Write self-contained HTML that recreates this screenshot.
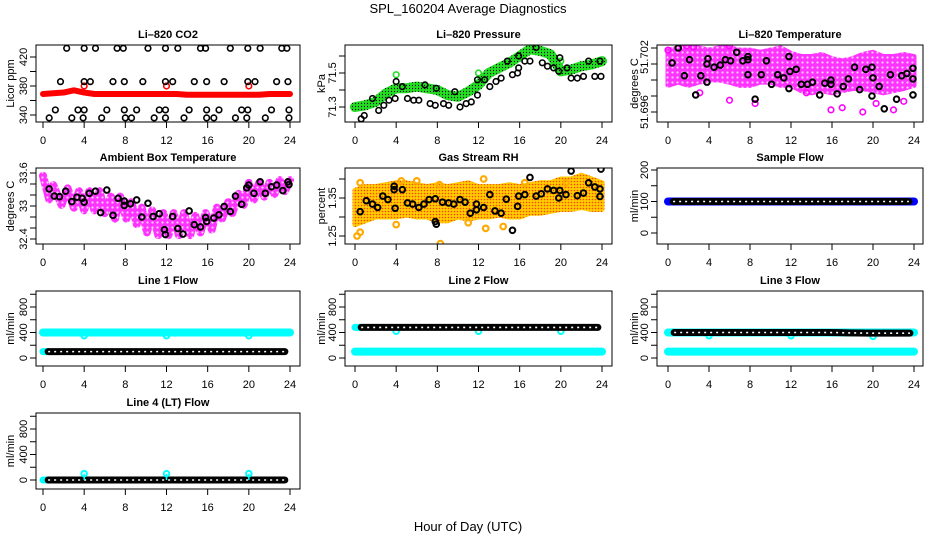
<!DOCTYPE html>
<html><head><meta charset="utf-8">
<style>
html,body{margin:0;padding:0;background:#fff;}
svg{display:block;font-family:"Liberation Sans",Arial,sans-serif;}
</style></head>
<body>
<svg id="chart" width="936" height="540" viewBox="0 0 936 540" xmlns="http://www.w3.org/2000/svg">
<defs>
<pattern id="pMag" width="5" height="5" patternUnits="userSpaceOnUse"><rect width="5" height="5" fill="#ff33ff"/><circle cx="2.5" cy="2.5" r="1.1" fill="#ffd0ff"/></pattern>
<pattern id="pGreen" width="3" height="3" patternUnits="userSpaceOnUse"><rect width="3" height="3" fill="#22dd22"/><circle cx="1.5" cy="1.5" r="0.6" fill="#000"/></pattern>
<pattern id="pRH" width="3" height="3" patternUnits="userSpaceOnUse"><rect width="3" height="3" fill="#ffcc00"/><circle cx="1.5" cy="1.5" r="0.8" fill="#ff4400"/></pattern>
</defs>
<text x="468" y="13" text-anchor="middle" font-size="13">SPL_160204  Average Diagnostics</text>
<text x="468" y="531" text-anchor="middle" font-size="13">Hour of Day (UTC)</text>
</svg>
<script>
// ---------- data ----------
const xTicks = [0,4,8,12,16,20,24];
const hours = [0,1,2,3,4,5,6,7,8,9,10,11,12,13,14,15,16,17,18,19,20,21,22,23,24];

// Li-820 CO2
const co2Red = [369,370,371,374,371,369,369,369,369,369,369,369,369,369,368,368,368,368,368,368,368,368,369,369,369];
const co2RedOutX = [4,12,20];
const co2RedOutY = [380,380,380];
const co2BlackX = [2.3,4.0,5.1,7.2,7.8,10.2,11.9,13.1,15.3,15.8,18.2,19.9,21.1,23.2,23.7,
  1.7,4.0,4.6,6.8,7.9,9.7,11.9,12.6,14.7,15.9,17.6,19.9,20.6,22.7,23.8,
  1.2,3.4,4.0,6.2,7.9,9.1,11.3,11.9,14.2,15.9,17.1,19.3,19.9,22.2,23.9,
  0.6,2.8,3.9,5.7,8.0,8.6,10.8,11.9,13.7,15.9,16.6,18.7,19.8,21.6,23.9];
const co2BlackY = [432,432,432,432,432,432,432,432,432,432,432,432,432,432,432,
  386,386,386,386,386,386,386,386,386,386,386,386,386,386,386,
  347,347,347,347,347,347,347,347,347,347,347,347,347,347,347,
  336,336,336,336,336,336,336,336,336,336,336,336,336,336,336];

// Li-820 Pressure
const presGreen = [71.30,71.31,71.33,71.38,71.41,71.41,71.42,71.41,71.40,71.37,71.36,71.39,71.43,71.50,71.53,71.56,71.60,71.64,71.63,71.61,71.51,71.52,71.54,71.55,71.57];
const presGreenOutX = [4,12,20];
const presGreenOutY = [71.49,71.50,71.57];
const presBlackX = [0.6,0.9,1.7,2.3,2.8,3.3,3.9,4.0,4.6,5.1,5.7,6.2,6.8,7.3,7.8,7.9,8.6,9.1,9.7,10.2,10.8,11.3,11.9,11.9,12.6,13.1,13.7,14.2,14.8,15.3,15.8,15.9,15.9,16.5,17.0,17.6,18.2,18.7,19.3,19.8,19.9,20.6,21.0,21.6,22.2,22.7,23.3,23.8,23.9];
const presBlackY = [71.23,71.25,71.35,71.28,71.31,71.34,71.35,71.45,71.42,71.35,71.34,71.34,71.43,71.32,71.31,71.41,71.32,71.31,71.39,71.30,71.32,71.33,71.37,71.46,71.46,71.42,71.45,71.47,71.57,71.49,71.50,71.53,71.60,71.57,71.57,71.65,71.56,71.54,71.53,71.51,71.59,71.53,71.47,71.47,71.48,71.57,71.48,71.57,71.48];

// Li-820 Temperature
const tempUpper = [51.7018,51.7020,51.7020,51.7020,51.7018,51.7020,51.7020,51.7018,51.7018,51.7016,51.7018,51.7020,51.7015,51.7012,51.7012,51.7014,51.7010,51.7008,51.7010,51.7014,51.7016,51.7012,51.7012,51.7014,51.7012];
const tempLower = [51.6985,51.6988,51.6985,51.6988,51.6990,51.6990,51.6988,51.6985,51.6985,51.6988,51.6988,51.6985,51.6985,51.6980,51.6978,51.6980,51.6978,51.6980,51.6982,51.6982,51.6980,51.6978,51.6980,51.6982,51.6985];
const tempMagOutX = [3.1,6.0,8.5,13.5,15.9,17.0,19.0,20.3,22.0,1.8,6.0,0.0,2.5,23.0];
const tempMagOutY = [51.6978,51.6971,51.6968,51.6978,51.6962,51.6964,51.6960,51.6968,51.6962,51.7022,51.7022,51.7018,51.7021,51.6970];
const tempBlackX = [0.4,1.0,1.6,2.1,2.7,3.2,3.8,3.8,3.9,4.5,5.1,5.6,6.1,6.7,7.3,7.8,7.8,7.8,8.5,9.1,9.6,10.1,10.7,11.3,11.8,11.8,11.9,12.5,13.0,13.6,14.1,14.8,15.3,15.9,15.9,16.5,17.1,17.6,18.2,18.7,19.3,19.9,19.9,20.0,20.6,21.1,21.7,22.3,22.8,23.3,23.9,23.9,23.9];
const tempBlackY = [51.7006,51.7020,51.6994,51.7009,51.6976,51.6994,51.6988,51.7005,51.7010,51.7002,51.7004,51.7009,51.7008,51.7016,51.7008,51.7009,51.6995,51.7012,51.6972,51.6995,51.7008,51.6986,51.6995,51.6992,51.6982,51.7012,51.6998,51.7000,51.6986,51.6986,51.6988,51.6976,51.6987,51.6990,51.6986,51.6977,51.6984,51.6991,51.7002,51.6981,51.7000,51.7002,51.6975,51.6992,51.6984,51.6963,51.6995,51.6972,51.6994,51.6996,51.6991,51.7001,51.6976];

// Ambient Box Temperature
const ambZigX = [0,0.6,1.0,1.8,2.4,3.0,3.5,4.0,4.5,5.0,5.5,6.0,6.6,7.0,7.5,8.1,8.6,9.1,9.6,10.1,10.6,11.2,11.7,12.2,12.7,13.2,13.7,14.3,14.8,15.3,15.8,16.4,16.9,17.4,18.0,18.4,19.0,19.5,20.0,20.5,21.0,21.5,22.0,22.5,23.0,23.5,24.0];
const ambZigY = [33.55,33.12,33.38,33.02,33.32,32.97,33.27,32.92,33.27,32.92,33.27,32.87,33.17,32.77,33.17,32.77,33.07,32.67,32.97,32.52,32.92,32.47,32.87,32.47,32.87,32.47,32.87,32.47,32.82,32.52,32.87,32.57,32.97,32.77,33.07,32.87,33.22,33.02,33.42,33.12,33.42,33.17,33.42,33.22,33.47,33.27,33.47];
const ambBlackX = [0.6,1.1,1.6,2.2,2.8,3.3,3.8,4.0,4.5,5.1,5.6,6.2,6.8,7.3,7.9,7.9,8.5,9.1,9.6,10.2,10.7,11.3,11.8,11.9,12.6,13.1,13.6,14.2,14.7,15.3,15.8,15.9,16.6,17.1,17.6,18.2,18.7,19.3,19.8,20.0,20.5,21.1,21.6,22.2,22.7,23.3,23.8,23.9];
const ambBlackY = [33.31,33.18,33.17,33.27,33.08,33.16,33.14,33.07,33.23,33.27,32.88,33.29,32.83,33.14,33.09,33.01,33.04,33.11,32.80,33.05,32.81,32.86,32.57,32.48,32.81,32.59,32.49,32.91,32.66,32.62,32.79,32.72,32.78,32.84,32.99,32.90,33.18,33.03,33.33,33.38,33.23,33.44,33.23,33.35,33.38,33.28,33.44,33.39];

// Gas Stream RH
const rhUpper = [1.37,1.38,1.38,1.385,1.39,1.39,1.385,1.38,1.385,1.38,1.385,1.39,1.38,1.38,1.38,1.385,1.38,1.385,1.39,1.39,1.40,1.40,1.41,1.40,1.39];
const rhLower = [1.28,1.29,1.30,1.30,1.30,1.305,1.30,1.30,1.29,1.29,1.30,1.295,1.30,1.30,1.305,1.30,1.30,1.31,1.31,1.315,1.32,1.32,1.325,1.32,1.32];
const rhOutX = [0.2,0.5,4.0,8.3,11.0,12.7,14.4,0.5,8.2,12.5,16.5,20.5,4.5,6.0];
const rhOutY = [1.25,1.26,1.28,1.23,1.285,1.27,1.275,1.39,1.385,1.40,1.39,1.39,1.395,1.395];
const rhBlackX = [0.5,1.1,1.7,2.2,2.7,3.2,3.8,3.8,3.9,4.6,5.1,5.6,6.2,6.7,7.2,7.8,7.8,7.9,8.5,9.1,9.6,10.2,10.7,11.2,11.8,11.8,12.5,13.1,13.6,14.2,14.7,15.3,15.8,15.9,16.5,17.0,17.6,18.1,18.7,19.3,19.8,19.9,20.5,21.0,21.6,22.2,22.7,23.3,23.8,23.8,23.9];
const rhBlackY = [1.314,1.343,1.334,1.325,1.355,1.346,1.381,1.372,1.323,1.372,1.337,1.334,1.325,1.334,1.346,1.348,1.288,1.281,1.339,1.337,1.334,1.346,1.339,1.310,1.334,1.319,1.325,1.359,1.316,1.310,1.347,1.265,1.328,1.355,1.359,1.404,1.355,1.361,1.374,1.370,1.350,1.370,1.359,1.421,1.356,1.363,1.390,1.379,1.374,1.354,1.426];

// Sample Flow
const sampleBlue = [100,100,100,100,100,100,100,100,100,100,100,100,100,100,100,100,100,100,100,100,100,100,100,100,100];
const sampleBlack = [100,100,100,100,100,100,100,100,100,100,100,100,100,100,100,100,100,100,100,100,100,100,100,100,100];

// Line flows
const dipX = [4,12,20];
const line1Cyan = [400,400,400,400,400,400,400,400,400,400,400,400,400,400,400,400,400,400,400,400,400,400,400,400,400];
const line1Black = [100,100,100,100,100,100,100,100,100,100,100,100,100,100,100,100,100,100,100,100,100,100,100,100,100];
const line1Dip = [350,350,350];
const line2Black = [480,480,480,480,480,480,480,480,480,480,480,480,480,480,480,480,480,480,480,480,480,480,480,480,480];
const line2Cyan = [100,100,100,100,100,100,100,100,100,100,100,100,100,100,100,100,100,100,100,100,100,100,100,100,100];
const line2Dip = [420,420,420];
const line3Black = [400,400,400,400,400,400,400,400,400,400,400,400,400,400,400,400,400,398,394,392,390,390,390,390,390];
const line3CyanHi = [400,400,400,400,400,400,400,400,400,400,400,400,400,400,400,400,400,400,400,400,400,400,400,400,400];
const line3Cyan = [100,100,100,100,100,100,100,100,100,100,100,100,100,100,100,100,100,100,100,100,100,100,100,100,100];
const line3Dip = [350,350,340];
const line4Black = [0,0,0,0,0,0,0,0,0,0,0,0,0,0,0,0,0,0,0,0,0,0,0,0,0];
const line4Spike = [100,100,100];

// ---------- helpers ----------
const NS = 'http://www.w3.org/2000/svg';
const svg = document.getElementById('chart');
function el(tag, parent){ const e = document.createElementNS(NS, tag); parent.appendChild(e); return e; }
function set(e, a){ for (const k in a) e.setAttribute(k, a[k]); return e; }

const cols = [{l:36,r:300,x0:43,x24:290,yl:10},{l:345,r:612,x0:355,x24:602,yl:321},{l:657,r:923,x0:668,x24:914,yl:634}];
const rows = [{t:45,b:122},{t:168,b:244},{t:291,b:366},{t:413,b:489}];

function panel(ci, ri, name, title, ylab, v1, p1, v2, p2, yTicks, yLabels, labelShift){
  const c = cols[ci], r = rows[ri];
  const g = el('g', svg);
  
  
  const X = h => c.x0 + (h/24)*(c.x24 - c.x0);
  const Y = v => p1 + (v - v1)*(p2 - p1)/(v2 - v1);
  const clipId = 'clip-' + name;
  const cp = el('clipPath', svg); cp.setAttribute('id', clipId);
  set(el('rect', cp), {x:c.l, y:r.t, width:c.r-c.l, height:r.b-r.t});
  const plot = el('g', g); plot.setAttribute('clip-path', 'url(#' + clipId + ')');
  
  
  const box = set(el('rect', g), {x:c.l, y:r.t, width:c.r-c.l, height:r.b-r.t, fill:'none', stroke:'#000', 'stroke-width':1});
  
  
  const tt = set(el('text', g), {x:(c.l+c.r)/2, y:r.t-7, 'text-anchor':'middle', 'font-size':11, 'font-weight':'bold'});
  tt.textContent = title;
  
  
  const yt = set(el('text', g), {x:0, y:0, 'text-anchor':'middle', 'font-size':11, transform:'translate(' + (c.yl+4) + ',' + ((r.t+r.b)/2) + ') rotate(-90)'});
  yt.textContent = ylab;
  
  
  const xa = el('g', g);
  
  
  set(el('line', xa), {x1:X(0), x2:X(24), y1:r.b, y2:r.b, stroke:'#000'});
  xTicks.forEach(h => {
    set(el('line', xa), {x1:X(h), x2:X(h), y1:r.b, y2:r.b+6, stroke:'#000'});
    const t = set(el('text', xa), {x:X(h), y:r.b+22, 'text-anchor':'middle', 'font-size':11});
    t.textContent = h;
    
    
  });
  const ya = el('g', g);
  
  
  set(el('line', ya), {x1:c.l, x2:c.l, y1:Y(yTicks[0]), y2:Y(yTicks[yTicks.length-1]), stroke:'#000'});
  yTicks.forEach(v => { set(el('line', ya), {x1:c.l-6, x2:c.l, y1:Y(v), y2:Y(v), stroke:'#000'}); });
  yLabels.forEach((v, i) => {
    const sh = labelShift ? labelShift[i] : 0;
    const t = set(el('text', ya), {x:0, y:0, 'text-anchor':'middle', 'font-size':11, transform:'translate(' + (c.l-9) + ',' + (Y(v)+sh) + ') rotate(-90)'});
    t.textContent = v;
    
    
  });
  return {X, Y, g: plot};
}

function points(P, xs, ys, color, name, sw){
  const gg = el('g', P.g);
  
  
  xs.forEach((h, i) => {
    set(el('circle', gg), {cx:P.X(h), cy:P.Y(ys[i]), r:2.8, fill:'none', stroke:color, 'stroke-width':sw||1.6});
  });
}
function band(P, xs, ys, stroke, width, name){
  const pl = el('polyline', P.g);
  set(pl, {points: xs.map((h,i) => P.X(h) + ',' + P.Y(ys[i])).join(' '), fill:'none', stroke:stroke, 'stroke-width':width, 'stroke-linejoin':'round', 'stroke-linecap':'round'});
  
  
  return pl;
}
function chain(P, xs, ys, color, name){
  const gg = el('g', P.g);
  
  
  const pts = xs.map((h,i) => P.X(h) + ',' + P.Y(ys[i])).join(' ');
  set(el('polyline', gg), {points:pts, fill:'none', stroke:color, 'stroke-width':7, 'stroke-linecap':'round'});
  set(el('polyline', gg), {points:pts, fill:'none', stroke:'#fff', 'stroke-width':1.6, 'stroke-dasharray':'2 4'});
}
function envelope(P, xs, up, lo, fill, name){
  const pg = el('polygon', P.g);
  const pts = xs.map((h,i) => P.X(h) + ',' + P.Y(up[i])).concat(xs.slice().reverse().map((h,j) => P.X(h) + ',' + P.Y(lo[xs.length-1-j])));
  set(pg, {points: pts.join(' '), fill: fill, stroke: fill, 'stroke-width':5, 'stroke-linejoin':'round'});
  
  
}
function sub(arr, from){ return arr.slice(from); }

// ---------- panels ----------
const pCO2 = panel(0,0,'co2-panel','Li\u2013820 CO2','Licor ppm',420,57,340,115,[340,360,380,400,420],[340,380,420]);
band(pCO2, hours, co2Red, '#ff0000', 6, 'co2-red-series');
points(pCO2, co2RedOutX, co2RedOutY, '#ff0000', 'co2-red-outliers');
points(pCO2, co2BlackX, co2BlackY, '#000', 'co2-black-series');

const pP = panel(1,0,'pressure-panel','Li\u2013820 Pressure','kPa',71.5,73,71.3,107,[71.3,71.4,71.5,71.6],[71.3,71.5]);
band(pP, hours, presGreen, 'url(#pGreen)', 10, 'pressure-green-series');
points(pP, presGreenOutX, presGreenOutY, '#22dd22', 'pressure-green-outliers');
points(pP, presBlackX, presBlackY, '#000', 'pressure-black-series');

const pT = panel(2,0,'temperature-panel','Li\u2013820 Temperature','degrees C',51.702,48,51.696,112,[51.696,51.6975,51.699,51.7005,51.702],[51.696,51.702],[0,9]);
envelope(pT, hours, tempUpper, tempLower, 'url(#pMag)', 'temperature-magenta-cloud');
points(pT, tempMagOutX, tempMagOutY, '#ff00ff', 'temperature-magenta-outliers');
points(pT, tempBlackX, tempBlackY, '#000', 'temperature-black-series', 2);

const pA = panel(0,1,'ambient-panel','Ambient Box Temperature','degrees C',33.6,173,32.4,239,[32.4,32.6,32.8,33.0,33.2,33.4,33.6],[32.4,33.0,33.6]);
band(pA, ambZigX, ambZigY, 'url(#pMag)', 8, 'ambient-magenta-series');
points(pA, ambBlackX, ambBlackY, '#000', 'ambient-black-series', 2);

const pR = panel(1,1,'rh-panel','Gas Stream RH','percent',1.35,198,1.25,236,[1.25,1.30,1.35,1.40],[1.25,1.35]);
envelope(pR, hours, rhUpper, rhLower, 'url(#pRH)', 'rh-orange-cloud');
points(pR, rhOutX, rhOutY, '#ffaa00', 'rh-orange-outliers', 2.2);
points(pR, rhBlackX, rhBlackY, '#000', 'rh-black-series', 2);

const pS = panel(2,1,'sample-flow-panel','Sample Flow','ml/min',200,170,0,233,[0,50,100,150,200],[0,100,200]);
band(pS, hours, sampleBlue, '#0000ff', 8, 'sample-blue-series');
chain(pS, sub(hours,1).map(h => h - 0.5), sub(sampleBlack,1), '#000', 'sample-black-series');

function flowPanel(ci, ri, name, title){
  const r = rows[ri];
  return panel(ci, ri, name, title, 'ml/min', 800, r.t+16, 0, r.t+67, [0,200,400,600,800,1000], [0,400,800]);
}
const pL1 = flowPanel(0,2,'line1-panel','Line 1 Flow');
band(pL1, hours, line1Cyan, '#00ffff', 8, 'line1-cyan-series');
points(pL1, dipX, line1Dip, '#00ffff', 'line1-cyan-dips', 2);
band(pL1, [0,0.4], [100,100], '#00ffff', 7, 'line1-cyan-start');
chain(pL1, sub(hours,1).map(h => h - 0.5), sub(line1Black,1), '#000', 'line1-black-series');

const pL2 = flowPanel(1,2,'line2-panel','Line 2 Flow');
band(pL2, hours, line2Cyan, '#00ffff', 8, 'line2-cyan-series');
band(pL2, [0,0.6], [480,480], '#00ffff', 7, 'line2-cyan-start');
points(pL2, dipX, line2Dip, '#00ffff', 'line2-cyan-dips', 2);
chain(pL2, sub(hours,1).map(h => h - 0.4), sub(line2Black,1), '#000', 'line2-black-series');

const pL3 = flowPanel(2,2,'line3-panel','Line 3 Flow');
band(pL3, hours, line3Cyan, '#00ffff', 8, 'line3-cyan-series');
band(pL3, hours, line3CyanHi, '#00ffff', 8, 'line3-cyan-high-series');
points(pL3, dipX, line3Dip, '#00ffff', 'line3-cyan-dips', 2);
chain(pL3, sub(hours,1).map(h => h - 0.4), sub(line3Black,1), '#000', 'line3-black-series');

const pL4 = flowPanel(0,3,'line4-panel','Line 4 (LT) Flow');
band(pL4, [0,0.5], [0,0], '#00ffff', 7, 'line4-cyan-start');
chain(pL4, sub(hours,1).map(h => h - 0.5), sub(line4Black,1), '#000', 'line4-black-series');
dipX.forEach((h,i) => {
  const ln = set(el('line', pL4.g), {x1:pL4.X(h), x2:pL4.X(h), y1:pL4.Y(0), y2:pL4.Y(line4Spike[i]), stroke:'#00ffff', 'stroke-width':1.5});
  
  
});
points(pL4, dipX, line4Spike, '#00ffff', 'line4-cyan-spikes', 2);
</script>
</body></html>
